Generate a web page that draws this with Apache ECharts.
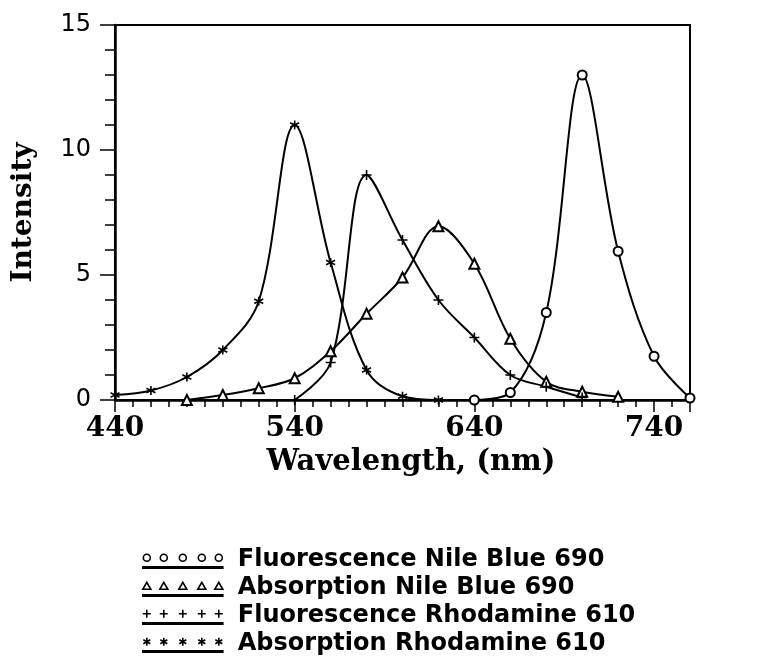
<!DOCTYPE html>
<html>
<head>
<meta charset="utf-8">
<script src="https://cdn.jsdelivr.net/npm/echarts@6/dist/echarts.min.js"></script>
<style>html,body{margin:0;padding:0;background:#fff;}#c{width:760px;height:661px;}</style>
</head>
<body>
<div id="c"></div>
<script>
// Data
const fluorNileX = [640, 660, 680, 700, 720, 740, 760];
const fluorNileY = [0.0, 0.3, 3.5, 13.0, 5.95, 1.75, 0.08];
const absNileX = [480, 500, 520, 540, 560, 580, 600, 620, 640, 660, 680, 700, 720];
const absNileY = [0.0, 0.2, 0.47, 0.87, 1.95, 3.45, 4.9, 6.95, 5.45, 2.45, 0.73, 0.33, 0.13];
const fluorRhoX = [540, 560, 580, 600, 620, 640, 660, 680, 700];
const fluorRhoY = [0.0, 1.5, 9.0, 6.4, 4.0, 2.5, 1.0, 0.53, 0.1];
const absRhoX = [440, 460, 480, 500, 520, 540, 560, 580, 600, 620];
const absRhoY = [0.2, 0.38, 0.92, 2.0, 3.95, 11.0, 5.5, 1.2, 0.15, 0.0];
const seriesNames = ['Fluorescence Nile Blue 690', 'Absorption Nile Blue 690', 'Fluorescence Rhodamine 610', 'Absorption Rhodamine 610'];
const xMin = 440, xMax = 760, yMin = 0, yMax = 15;

const pair = (xs, ys) => xs.map((x, i) => [x, ys[i]]);

const plusSym = 'path://M0,5H10M5,0V10';
const starSym = 'path://M5,0V10M0.67,2.5L9.33,7.5M0.67,7.5L9.33,2.5';

// legend icons: five markers over an underline (80 x 18)
function iconRow(shape) {
  const xs = [4, 21, 40, 59, 76];
  let p = '';
  xs.forEach(cx => {
    if (shape === 'circle') {
      p += `M${cx - 3.5},6a3.5,3.5 0 1,0 7,0a3.5,3.5 0 1,0 -7,0`;
    } else if (shape === 'triangle') {
      p += `M${cx - 4},9.5L${cx},2.5L${cx + 4},9.5Z`;
    } else if (shape === 'plus') {
      p += `M${cx - 4},6H${cx + 4}M${cx},2V10`;
    } else {
      p += `M${cx},2V10M${cx - 3.5},4L${cx + 3.5},8M${cx - 3.5},8L${cx + 3.5},4`;
    }
  });
  p += 'M0,15H80V16.5H0Z';
  return 'path://M0,0' + p;
}

const lineBase = {
  type: 'line',
  smooth: 0.35,
  xAxisIndex: 0,
  yAxisIndex: 0,
  lineStyle: { color: '#000', width: 2 },
  z: 3
};

const chart = echarts.init(document.getElementById('c'), null, { renderer: 'canvas' });
const iconStyle = { color: 'rgba(0,0,0,0)', borderColor: '#000', borderWidth: 1.6 };
chart.setOption({
  backgroundColor: '#fff',
  animation: false,
  grid: {
    left: 115, right: 70, top: 25, bottom: 261,
    show: true, borderColor: '#000', borderWidth: 2, backgroundColor: 'transparent'
  },
  legend: {
    orient: 'vertical',
    left: 142,
    top: 548,
    padding: 0,
    itemWidth: 80,
    itemHeight: 18,
    itemGap: 4,
    selectedMode: false,
    textStyle: { fontFamily: 'DejaVu Sans', fontWeight: 'bold', fontSize: 24, color: '#000', padding: [0, 0, 0, 10] },
    data: [
      { name: seriesNames[0], icon: iconRow('circle'), itemStyle: iconStyle },
      { name: seriesNames[1], icon: iconRow('triangle'), itemStyle: iconStyle },
      { name: seriesNames[2], icon: iconRow('plus'), itemStyle: iconStyle },
      { name: seriesNames[3], icon: iconRow('star'), itemStyle: iconStyle }
    ]
  },
  xAxis: [
    {
      type: 'value', min: xMin, max: xMax, interval: 10,
      name: 'Wavelength, (nm)', nameLocation: 'middle', nameGap: 41,
      nameTextStyle: { fontFamily: 'DejaVu Serif', fontWeight: 'bold', fontSize: 29, color: '#000', padding: [0, 0, 0, 17] },
      axisLine: { show: true, lineStyle: { color: '#000', width: 2.5 } },
      axisTick: { show: true, length: 7, lineStyle: { color: '#000', width: 1.5 } },
      axisLabel: {
        margin: 15, color: '#000', fontFamily: 'DejaVu Serif', fontWeight: 'bold', fontSize: 28,
        formatter: v => ((v - xMin) % 100 === 0 ? String(v) : '')
      },
      splitLine: { show: false }
    },
    {
      type: 'value', min: 0, max: xMax - xMin, interval: 100, position: 'bottom',
      axisLine: { show: false },
      axisTick: { show: true, length: 12, lineStyle: { color: '#000', width: 1.5 } },
      axisLabel: { show: false },
      splitLine: { show: false }
    }
  ],
  yAxis: [
    {
      type: 'value', min: yMin, max: yMax, interval: 1,
      name: 'Intensity', nameLocation: 'middle', nameGap: 77,
      nameTextStyle: { fontFamily: 'DejaVu Serif', fontWeight: 'bold', fontSize: 28, color: '#000' },
      axisLine: { show: true, lineStyle: { color: '#000', width: 2.5 } },
      axisTick: { show: true, length: 10, lineStyle: { color: '#000', width: 1.5 } },
      axisLabel: {
        margin: 24, color: '#000', fontFamily: 'DejaVu Sans', fontSize: 24,
        formatter: v => (v % 5 === 0 ? String(v) : '')
      },
      splitLine: { show: false }
    },
    {
      type: 'value', min: yMin, max: yMax, interval: 5, position: 'left',
      axisLine: { show: false },
      axisTick: { show: true, length: 15, lineStyle: { color: '#000', width: 1.5 } },
      axisLabel: { show: false },
      splitLine: { show: false }
    }
  ],
  series: [
    Object.assign({}, lineBase, {
      name: seriesNames[0], data: pair(fluorNileX, fluorNileY),
      symbol: 'emptyCircle', symbolSize: 9,
      itemStyle: { color: '#000', borderColor: '#000', borderWidth: 1.5 }
    }),
    Object.assign({}, lineBase, {
      name: seriesNames[1], data: pair(absNileX, absNileY),
      symbol: 'emptyTriangle', symbolSize: 10,
      itemStyle: { color: '#000', borderColor: '#000', borderWidth: 1.5 }
    }),
    Object.assign({}, lineBase, {
      name: seriesNames[2], data: pair(fluorRhoX, fluorRhoY),
      symbol: plusSym, symbolSize: 10,
      itemStyle: { color: '#000', borderColor: '#000', borderWidth: 1.6 }
    }),
    Object.assign({}, lineBase, {
      name: seriesNames[3], data: pair(absRhoX, absRhoY),
      symbol: starSym, symbolSize: 9,
      itemStyle: { color: '#000', borderColor: '#000', borderWidth: 1.6 }
    })
  ]
});
</script>
</body>
</html>
